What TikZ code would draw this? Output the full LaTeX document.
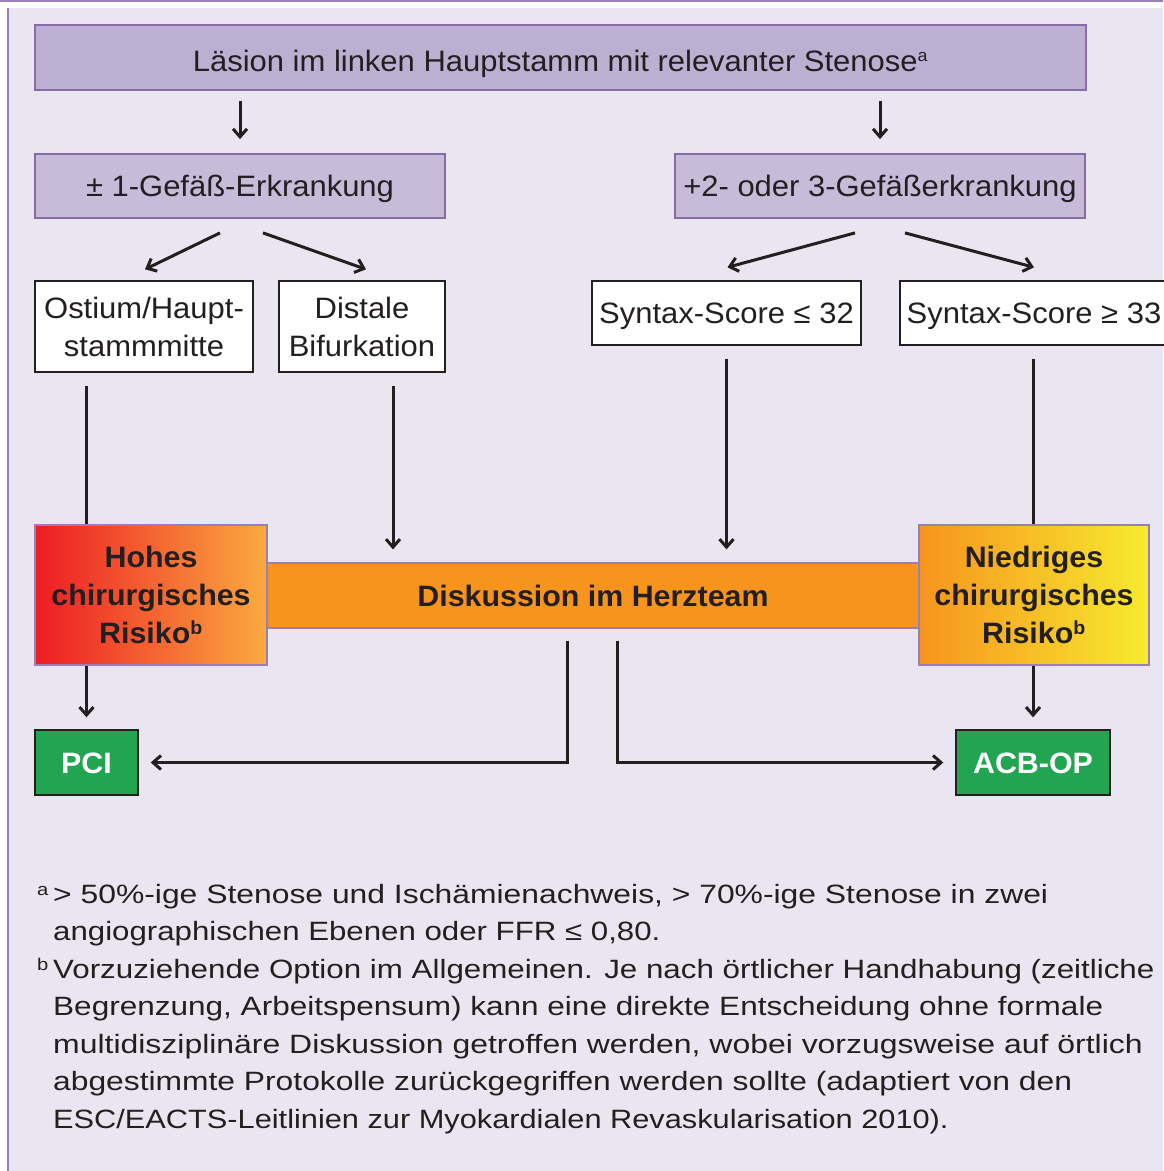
\documentclass[tikz,border=0pt]{standalone}
\usepackage{fontspec}
\setmainfont{Liberation Sans}
\newfontfamily\boxfont[FakeStretch=1.05]{Liberation Sans}
\newfontfamily\boldfont[FakeStretch=1.03,UprightFont=*,BoldFont=* Bold]{Liberation Sans}
\newfontfamily\footfont[FakeStretch=1.19]{Liberation Sans}
\usetikzlibrary{arrows.meta,calc}
\definecolor{bg}{HTML}{EAE6F1}
\definecolor{frame}{HTML}{9A7EB8}
\definecolor{topfill}{HTML}{BDAFD1}
\definecolor{midfill}{HTML}{C7BBD9}
\definecolor{boxedge}{HTML}{8A6AA8}
\definecolor{ink}{HTML}{231F20}
\definecolor{redc}{HTML}{ED1C24}
\definecolor{orl}{HTML}{FBAA3F}
\definecolor{orc}{HTML}{F7941E}
\definecolor{yelc}{HTML}{F6EB2E}
\definecolor{grn}{HTML}{21A550}
\tikzset{
  oneline/.style={text height=21pt, text depth=0pt},
  purplebox/.style={draw=boxedge, line width=1.8pt, inner sep=0pt, text=ink, oneline, font=\boxfont\fontsize{29.5}{33}\selectfont},
  whitebox/.style={draw=ink, fill=white, line width=1.4pt, inner sep=0pt, text=ink, align=center, font=\boxfont\fontsize{29.5}{38}\selectfont},
  riskbox/.style={draw=frame, line width=1.2pt, inner sep=0pt, text=ink, align=center, font=\boldfont\bfseries\fontsize{29.5}{38}\selectfont},
  greenbox/.style={draw=ink, fill=grn, line width=1.4pt, inner sep=0pt, text=white, oneline, font=\boldfont\bfseries\fontsize{29.5}{33}\selectfont},
  conn/.style={draw=ink, line width=3pt},
  arr/.style={conn, -{Straight Barb[length=8pt,width=14pt,line width=3pt]}},
  foot/.style={anchor=base west, inner sep=0pt, text=ink, font=\footfont\fontsize{26.5}{30}\selectfont}
}
\begin{document}
\begin{tikzpicture}[x=1pt,y=-1pt]
\useasboundingbox (0,0) rectangle (1163,1171);
\fill[white] (0,0) rectangle (1163,1171);
\fill[bg] (8,8) rectangle (1163,1171);
\draw[frame, line width=2pt] (8,8) -- (8,1171);
\draw[frame, line width=2pt] (0,1) -- (1163,1);

\node[purplebox, fill=topfill, minimum width=1051pt, minimum height=65pt, text height=28pt, text depth=1pt] (top) at (560.5,57.5) {Läsion im linken Hauptstamm mit relevanter Stenose\textsuperscript{\fontsize{17}{20}\selectfont a}};
\node[purplebox, fill=midfill, minimum width=410pt, minimum height=64pt] (l1) at (240,186) {± 1-Gefäß-Erkrankung};
\node[purplebox, fill=midfill, minimum width=410pt, minimum height=64pt] (r1) at (880,186) {+2- oder 3-Gefäßerkrankung};

\node[whitebox, minimum width=218pt, minimum height=91pt] (ost) at (144,326.5) {Ostium/Haupt-\\stammmitte};
\node[whitebox, minimum width=166pt, minimum height=91pt] (dist) at (362,326.5) {Distale\\Bifurkation};
\node[whitebox, oneline, minimum width=269pt, minimum height=64pt] (s32) at (726.5,313) {Syntax-Score ≤ 32};
\node[whitebox, oneline, minimum width=268pt, minimum height=64pt] (s33) at (1034,313) {Syntax-Score ≥ 33};

\node[riskbox, oneline, fill=orc, minimum width=652pt, minimum height=65pt] (bar) at (593,595.5) {Diskussion im Herzteam};
\node[riskbox, left color=redc, right color=orl, minimum width=232pt, minimum height=140pt] (hoh) at (151,595) {Hohes\\chirurgisches\\Risiko\textsuperscript{\fontsize{19}{20}\selectfont b}};
\node[riskbox, left color=orc, right color=yelc, minimum width=230pt, minimum height=140pt] (nied) at (1034,595) {Niedriges\\chirurgisches\\Risiko\textsuperscript{\fontsize{19}{20}\selectfont b}};

\node[greenbox, minimum width=103pt, minimum height=65pt] (pci) at (86.5,762.5) {PCI};
\node[greenbox, minimum width=154pt, minimum height=65pt] (acb) at (1033,762.5) {ACB-OP};

% connectors
\draw[arr] ($(top.south -| l1)+(0,10)$) -- ($(l1.north)+(0,-14)$);
\draw[arr] ($(top.south -| r1)+(0,10)$) -- ($(r1.north)+(0,-14)$);
\draw[arr] ($(l1.south)+(-20,14)$) -- ($(ost.north)+(1,-11)$);
\draw[arr] ($(l1.south)+(23,14)$) -- ($(dist.north)+(4,-11)$);
\draw[arr] ($(r1.south)+(-25,14)$) -- ($(s32.north)+(1,-13)$);
\draw[arr] ($(r1.south)+(25,14)$) -- ($(s33.north)+(0,-13)$);

\draw[conn] ($(ost.south -| pci)+(0,13)$) -- (hoh.north -| pci);
\draw[arr] ($(dist.south)+(31,13)$) -- ($(bar.north -| 393,0)+(0,-13)$);
\draw[arr] ($(s32.south)+(0,13)$) -- ($(bar.north -| s32)+(0,-13)$);
\draw[conn] ($(s33.south -| acb)+(0,13)$) -- (nied.north -| acb);

\draw[arr] (hoh.south -| pci) -- ($(pci.north)+(0,-12)$);
\draw[arr] (nied.south -| acb) -- ($(acb.north)+(0,-12)$);

\coordinate (bl) at ($(bar.south -| 567,0)+(0,12)$);
\coordinate (br) at ($(bar.south -| 617,0)+(0,12)$);
\draw[arr] (bl) |- ($(pci.east)+(12,0)$);
\draw[arr] (br) |- ($(acb.west)+(-12,0)$);

% footnotes
\node[foot] (fa) at (37,895) {\fontsize{17}{20}\selectfont a};
\node[foot] (f1) at (53,903) {\scalebox{1.01}[1]{> 50\%-ige Stenose und Ischämienachweis, > 70\%-ige Stenose in zwei}};
\node[foot] (f2) at (53,940.5) {\scalebox{0.99}[1]{angiographischen Ebenen oder FFR ≤ 0,80.}};
\node[foot] (fb) at (37,970) {\fontsize{17}{20}\selectfont b};
\node[foot] (f3) at (53,978) {\scalebox{0.993}[1]{Vorzuziehende Option im Allgemeinen. Je nach örtlicher Handhabung (zeitliche}};
\node[foot] (f4) at (53,1015.5) {Begrenzung, Arbeitspensum) kann eine direkte Entscheidung ohne formale};
\node[foot] (f5) at (53,1053) {\scalebox{1.013}[1]{multidisziplinäre Diskussion getroffen werden, wobei vorzugsweise auf örtlich}};
\node[foot] (f6) at (53,1090.5) {\scalebox{1.008}[1]{abgestimmte Protokolle zurückgegriffen werden sollte (adaptiert von den}};
\node[foot] (f7) at (53,1128) {\scalebox{0.975}[1]{ESC/EACTS-Leitlinien zur Myokardialen Revaskularisation 2010).}};
\end{tikzpicture}
\end{document}
